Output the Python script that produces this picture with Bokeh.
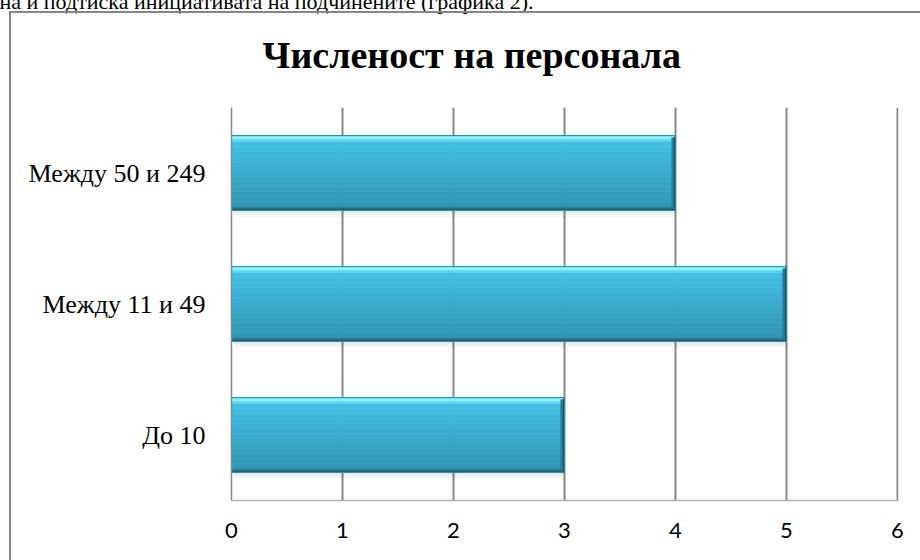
from bokeh.plotting import figure
from bokeh.models import FactorRange, Range1d, ColumnDataSource, FixedTicker, Title, InlineStyleSheet
from bokeh.transform import dodge
from bokeh.embed import file_html
from bokeh.resources import INLINE

categories = ["До 10", "Между 11 и 49", "Между 50 и 249"]
values = [3, 5, 4]
x_ticks = [0, 1, 2, 3, 4, 5, 6]
title_text = "Численост на персонала"
above_text = "на и подтиска инициативата на подчинените (графика 2)."

W, H = 920, 560
L, R, T, B = 231, 22, 107, 60
fw, fh = W - L - R, H - T - B
XEND = 6.01
ppx = fw / XEND
ppy = fh / len(categories)

p = figure(width=W, height=H, y_range=FactorRange(*categories), x_range=Range1d(0, XEND),
           output_backend="svg", toolbar_location=None,
           min_border_left=L, min_border_right=R, min_border_top=0, min_border_bottom=B)
p.outline_line_color = None
p.background_fill_color = "white"
p.border_fill_color = "white"

# outermost title slot: the cut-off line of body text above the chart
p.title.text = above_text
p.title.align = "left"
p.title.offset = -232
p.title.vertical_align = "bottom"
try:
    p.title.standoff = -27
except Exception:
    p.title.standoff = 0
p.title.text_font = "Liberation Serif"
p.title.text_font_style = "normal"
p.title.text_font_size = "22px"
p.title.text_color = "black"

chart_title = Title(text=title_text, align="left", offset=31, vertical_align="bottom",
                    standoff=63, text_font="Liberation Serif",
                    text_font_style="bold", text_font_size="38px", text_color="black")
p.add_layout(chart_title, "above")

src = ColumnDataSource(dict(cat=categories, val=values))

def d(px):
    return px / ppy

BAR_PX = 75
for i, a in enumerate([0.10, 0.07, 0.05, 0.03, 0.015]):
    top = BAR_PX / 2 + i * 1.5
    p.hbar(y=dodge("cat", -d(top + 0.75), range=p.y_range), height=d(1.6), left=0.02, right="val",
           source=src, fill_color="black", fill_alpha=a, line_color=None)

body_top, body_bot = 6, 71
steps = 13
c0 = (0x41, 0xBF, 0xE2)
c1 = (0x31, 0x97, 0xB7)
for s in range(steps):
    y0 = body_top + (body_bot - body_top) * s / steps
    y1 = body_top + (body_bot - body_top) * (s + 1) / steps
    t = s / (steps - 1)
    col = "#%02x%02x%02x" % tuple(int(c0[k] + (c1[k] - c0[k]) * t) for k in range(3))
    mid = BAR_PX / 2 - (y0 + y1) / 2
    p.hbar(y=dodge("cat", d(mid), range=p.y_range), height=d(y1 - y0 + 0.6), left=0, right="val",
           source=src, fill_color=col, line_color=None)

for (y0, y1, col) in [(0, 2, "#6fe3f7"), (2, 4, "#8df2ff"), (4, 6, "#5fd4ef")]:
    mid = BAR_PX / 2 - (y0 + y1) / 2
    p.hbar(y=dodge("cat", d(mid), range=p.y_range), height=d(y1 - y0 + 0.3), left=0, right="val",
           source=src, fill_color=col, line_color=None)
for (y0, y1, col) in [(71, 73, "#2a7f98"), (73, 75, "#1b5f73")]:
    mid = BAR_PX / 2 - (y0 + y1) / 2
    p.hbar(y=dodge("cat", d(mid), range=p.y_range), height=d(y1 - y0 + 0.3), left=0, right="val",
           source=src, fill_color=col, line_color=None)

p.hbar(y="cat", height=d(BAR_PX - 4), left=dodge("val", -4 / ppx), right="val",
       source=src, fill_color="#237f99", line_color=None)
p.hbar(y="cat", height=d(BAR_PX - 2), left=dodge("val", -1.5 / ppx), right="val",
       source=src, fill_color="#134f60", line_color=None)
p.hbar(y="cat", height=d(BAR_PX), left=0, right="val", source=src,
       fill_color=None, line_color="#2b91ad", line_width=1)

p.xaxis.ticker = FixedTicker(ticks=x_ticks)
p.xaxis.axis_line_color = "#b3b3b3"
p.xaxis.axis_line_width = 1.5
p.xaxis.major_tick_line_color = None
p.xaxis.minor_tick_line_color = None
p.xaxis.major_label_standoff = 16
p.xaxis.major_label_text_font = "Lato"
p.xaxis.major_label_text_font_size = "22px"
p.xaxis.major_label_text_color = "black"

p.yaxis.axis_line_color = "#888888"
p.yaxis.axis_line_width = 1.5
p.yaxis.major_tick_line_color = None
p.yaxis.minor_tick_line_color = None
p.yaxis.major_label_standoff = 20
p.yaxis.major_label_text_font = "Liberation Serif"
p.yaxis.major_label_text_font_size = "26px"
p.yaxis.major_label_text_color = "black"

p.xgrid.ticker = FixedTicker(ticks=x_ticks[1:])
p.xgrid.grid_line_color = "#878787"
p.xgrid.grid_line_width = 2
p.ygrid.grid_line_color = None
p.xgrid.level = "underlay"

p.stylesheets = [InlineStyleSheet(css="""
:host::after {
  content: "";
  position: absolute;
  left: 9px; top: 11px; right: 0px; bottom: 0px;
  border-left: 2px solid #868686;
  border-top: 2px solid #868686;
  pointer-events: none;
  z-index: 10;
}
""")]

open("out.html", "w").write(file_html(p, INLINE))
